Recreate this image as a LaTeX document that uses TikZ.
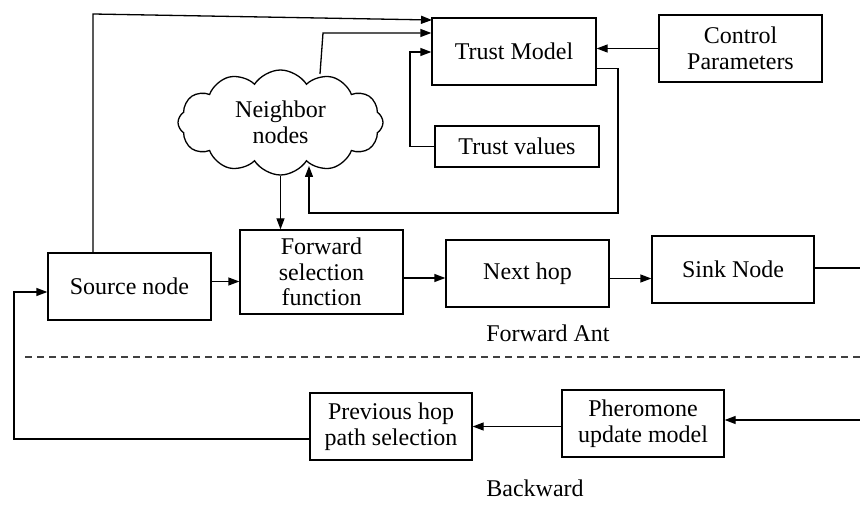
\documentclass[tikz,border=0pt]{standalone}
\usepackage{fontspec}
\setmainfont{Liberation Serif}
\usetikzlibrary{shapes.symbols,arrows.meta}
\begin{document}
\begin{tikzpicture}[x=1pt,y=-1pt,
  every node/.style={font=\fontsize{24}{25.5}\selectfont},
  blk/.style={draw,line width=1.3pt,inner sep=0pt,align=center,minimum height=67pt,minimum width=163pt},
  arr/.style={line width=1.3pt,-{Triangle[length=11pt,width=8pt]}},
  ln/.style={line width=1.3pt}]
\useasboundingbox (0,0) rectangle (860,513);
\node[blk,minimum width=164pt] (trust) at (514,51.5) {Trust Model};
\node[blk] (ctrl) at (740.5,48.5) {Control\\Parameters};
\node[blk,minimum width=164pt,minimum height=41pt] (tval) at (517,146.5) {Trust values};
\node[cloud,draw,line width=1.3pt,cloud puffs=12,cloud puff arc=115,cloud ignores aspect,minimum width=205pt,minimum height=105pt,inner sep=0pt,align=center] (cloud) at (280.5,122.5) {Neighbor\\nodes};
\node[blk,minimum height=84pt] (fwd) at (321.5,272) {Forward\\selection\\function};
\node[blk] (src) at (129.5,286.5) {Source node};
\node[blk] (next) at (527.5,273.5) {Next hop};
\node[blk,minimum width=162pt] (sink) at (733,269.5) {Sink Node};
\node[blk,minimum width=162pt] (prev) at (391,426.5) {Previous hop\\path selection};
\node[blk,minimum width=162pt] (pher) at (643,423.5) {Pheromone\\update model};
\node (fa) at (548,333) {Forward Ant};
\node (bw) at (535,488) {Backward};
% coordinates
\coordinate (t1) at (93,14);
\coordinate (t2) at (432,20);
\coordinate (c0) at (320,74);
\coordinate (c1) at (323,33);
\coordinate (c2) at (410,52);
\coordinate (c3) at (618,213);
\coordinate (c4) at (309,213);
\coordinate (c5) at (309,166);
\coordinate (e1) at (860,268);
\coordinate (e2) at (860,420);
\coordinate (b1) at (14,439);
\coordinate (b2) at (14,292);
\coordinate (d1) at (25,357);
\coordinate (d2) at (860,357);
% connectors
\draw[arr] (t1 |- src.north) -- (t1) -- (t2);
\draw[arr] (c0) -- (c1) -- (trust.west |- c1);
\draw[arr] (tval.west) -| (c2) -- (trust.west |- c2);
\draw[arr] (ctrl.west) -- (trust.east |- ctrl.west);
\draw[arr] ([yshift=-17pt]trust.east) -| (c3) -- (c4) -- (c5);
\draw[arr] (cloud.south) -- (fwd.north -| cloud.south);
\draw[arr] ([yshift=5pt]src.east) -- ([yshift=5pt]src.east -| fwd.west);
\draw[arr] ([yshift=-6pt]fwd.east) -- ([yshift=-6pt]fwd.east -| next.west);
\draw[arr] ([yshift=-5pt]next.east) -- ([yshift=-5pt]next.east -| sink.west);
\draw[ln] (sink.east |- e1) -- (e1);
\draw[arr] (e2) -- (pher.east |- e2);
\draw[arr] ([yshift=-3pt]pher.west) -- ([yshift=-3pt]pher.west -| prev.east);
\draw[arr] (prev.west |- b1) -- (b1) -- (b2) -- (src.west |- b2);
\draw[line width=1.3pt,draw=black!75,dash pattern=on 7pt off 5pt] (d1) -- (d2);
\end{tikzpicture}
\end{document}
